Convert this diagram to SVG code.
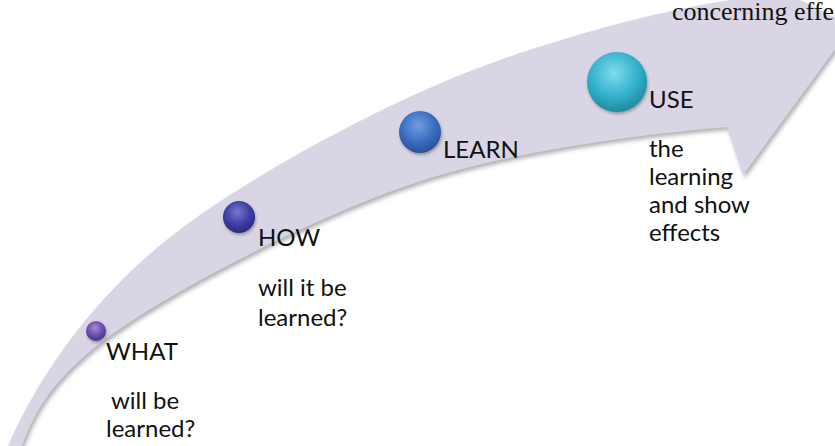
<svg xmlns="http://www.w3.org/2000/svg" width="835" height="446" viewBox="0 0 835 446">
<defs>
<filter id="sh" x="-10%" y="-10%" width="120%" height="120%">
<feDropShadow dx="2" dy="3" stdDeviation="2" flood-color="#7a7a7a" flood-opacity="0.6"/>
</filter>
<filter id="dsh" x="-30%" y="-30%" width="160%" height="160%">
<feDropShadow dx="1" dy="2" stdDeviation="1.5" flood-color="#555" flood-opacity="0.5"/>
</filter>
<radialGradient id="gWhat" cx="45%" cy="35%" r="65%">
<stop offset="0" stop-color="#a58ad8"/><stop offset="0.6" stop-color="#6a4cad"/><stop offset="1" stop-color="#4a3288"/>
</radialGradient>
<radialGradient id="gHow" cx="45%" cy="35%" r="65%">
<stop offset="0" stop-color="#7777d0"/><stop offset="0.6" stop-color="#3e3ea2"/><stop offset="1" stop-color="#2a2a80"/>
</radialGradient>
<radialGradient id="gLearn" cx="45%" cy="35%" r="65%">
<stop offset="0" stop-color="#6e9ee0"/><stop offset="0.6" stop-color="#3b6ec0"/><stop offset="1" stop-color="#2b5298"/>
</radialGradient>
<radialGradient id="gUse" cx="45%" cy="35%" r="65%">
<stop offset="0" stop-color="#7fdcec"/><stop offset="0.6" stop-color="#33b2cc"/><stop offset="1" stop-color="#1f8aa2"/>
</radialGradient>
<style>
.lbl{font-family:Lato,"Open Sans","Liberation Sans",sans-serif;font-size:24px;fill:#111}
.ser{font-family:"Liberation Serif","DejaVu Serif",serif;font-size:26px;fill:#111}
.dot{filter:url(#dsh)}
</style>
</defs>
<g id="connectors">
<path id="arrow" filter="url(#sh)" fill="#dad5e5" d="M8,446 C50,350 120,270 200,215 C280,160 400,95 500,60 C600,25 690,5 745,-2 L750,-25 L852,26 L743,175 L727,127 C650,133 520,150 430,178 C340,206 210,270 133,320 C56,370 35,410 22,446 Z"/>
</g>
<text class="ser" x="104" y="-6">g</text>
<text class="ser" x="672" y="20">concerning effe</text>
<g id="what">
<circle class="dot" cx="96" cy="331" r="10" fill="url(#gWhat)"/>
<text class="lbl" x="106" y="360">WHAT</text>
<text class="lbl" x="111" y="409">will be</text>
<text class="lbl" x="106" y="437">learned?</text>
</g>
<g id="how">
<circle class="dot" cx="239" cy="217" r="16" fill="url(#gHow)"/>
<text class="lbl" x="258" y="246">HOW</text>
<text class="lbl" x="258" y="296">will it be</text>
<text class="lbl" x="258" y="326">learned?</text>
</g>
<g id="learn">
<circle class="dot" cx="420" cy="132" r="21" fill="url(#gLearn)"/>
<text class="lbl" x="443" y="158">LEARN</text>
</g>
<g id="use">
<circle class="dot" cx="617" cy="82" r="30" fill="url(#gUse)"/>
<text class="lbl" x="649" y="108">USE</text>
<text class="lbl" x="649" y="157">the</text>
<text class="lbl" x="649" y="185">learning</text>
<text class="lbl" x="649" y="213">and show</text>
<text class="lbl" x="649" y="241">effects</text>
</g>
</svg>
